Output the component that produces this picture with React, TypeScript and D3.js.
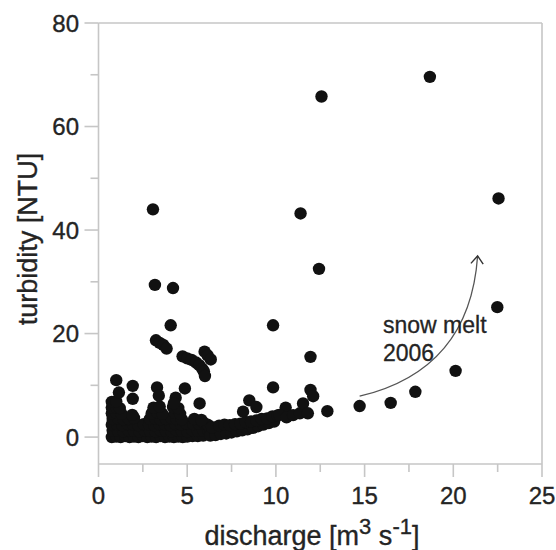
import React from "react";
import * as d3 from "d3";

// Dense low-turbidity cluster [discharge, turbidity]
const clusterPoints: [number, number][] = [
  [0.75, 0], [1.0, 0.1], [1.25, 0], [1.5, 0.2], [1.75, 0], [2.0, 0.1], [2.25, 0], [2.5, 0.2], [2.75, 0], [3.0, 0.1],
  [3.25, 0], [3.5, 0.2], [3.75, 0], [4.0, 0.1], [4.25, 0], [4.5, 0.1], [4.75, 0], [5.0, 0.1], [5.3, 0.2], [5.6, 0.2], [5.9, 0.3],
  [0.8, 1.2], [1.1, 1.2], [1.4, 1.1], [1.7, 1.3], [2.0, 1.2], [2.3, 1.1], [2.6, 1.3], [2.9, 1.2], [3.2, 1.1], [3.5, 1.3],
  [3.8, 1.2], [4.1, 1.1], [4.4, 1.3], [4.7, 1.2], [5.0, 1.1], [5.3, 1.3], [5.6, 1.2], [5.9, 1.3], [6.2, 1.2], [6.5, 1.1],
  [0.75, 2.4], [1.05, 2.4], [1.35, 2.3], [1.65, 2.5], [1.95, 2.4], [2.25, 2.3], [2.55, 2.5], [2.85, 2.4], [3.15, 2.3], [3.45, 2.5],
  [3.75, 2.4], [4.05, 2.3], [4.35, 2.5], [4.65, 2.4], [4.95, 2.6], [5.35, 2.5], [5.65, 2.6], [5.95, 2.7], [6.15, 2.4],
  [0.8, 3.5], [1.1, 3.6], [1.4, 3.4], [1.7, 3.5], [2.0, 3.7], [2.9, 3.5], [3.2, 3.6], [3.5, 3.4], [3.8, 3.5], [4.1, 3.7],
  [4.4, 3.5], [4.7, 3.4], [5.4, 3.5], [5.8, 3.3],
  [0.75, 4.6], [1.0, 4.7], [1.3, 4.5], [1.9, 4.3], [3.0, 4.6], [3.3, 4.8], [3.6, 4.5], [4.3, 4.7], [4.6, 4.5],
  [0.75, 5.7], [1.0, 5.8], [1.2, 5.6], [3.1, 5.7], [3.45, 5.9], [4.2, 5.8], [4.5, 5.6],
  [0.75, 6.8], [1.0, 6.9],
  [6.3, 0.3], [6.6, 0.4], [6.9, 0.6], [7.2, 0.7], [7.5, 0.9], [7.8, 1.1], [8.1, 1.3], [8.4, 1.5], [8.7, 1.8], [9.0, 2.1],
  [9.3, 2.4], [9.6, 2.7], [9.9, 3.0],
  [6.4, 1.9], [6.8, 2.2], [7.1, 2.4], [7.4, 2.3], [7.7, 2.5], [8.0, 2.6], [8.3, 2.9], [8.6, 3.0], [8.9, 3.2], [9.2, 3.5],
  [9.5, 3.6], [9.8, 4.0], [10.1, 4.2],
  [1.0, 11.0], [1.15, 8.6], [1.93, 9.9], [1.93, 7.4], [3.3, 9.6], [3.4, 8.0], [4.35, 7.6], [4.25, 6.5], [4.87, 9.4], [5.7, 6.5],
  [8.5, 7.1], [8.9, 5.8], [8.15, 4.9], [9.84, 9.6],
  [10.55, 5.7], [10.2, 4.3], [10.6, 3.8], [10.97, 4.25], [11.35, 4.6], [11.53, 6.5], [11.8, 4.6], [11.95, 9.1], [12.1, 7.9],
  [12.9, 5.0],
];

// Streak of elevated values at moderate discharge
const streakPoints: [number, number][] = [
  [4.07, 21.6], [3.24, 18.7], [3.45, 18.2], [3.65, 17.8], [3.84, 17.1], [4.74, 15.6], [5.0, 15.2], [5.25, 14.9], [5.5, 14.4],
  [5.68, 13.9], [5.85, 13.2], [5.94, 12.7], [6.0, 11.8], [5.98, 16.5], [6.15, 15.8], [6.33, 15.0], [9.84, 21.6], [11.95, 15.5],
];

// High turbidity events
const highPoints: [number, number][] = [
  [3.07, 44.0], [3.18, 29.4], [4.2, 28.8], [11.39, 43.2], [12.43, 32.5], [12.57, 65.8], [18.68, 69.6], [22.55, 46.1], [22.48, 25.1],
];

// Snow melt 2006 points
const snowMeltPoints: [number, number][] = [
  [14.72, 6.0], [16.47, 6.6], [17.86, 8.75], [20.13, 12.8],
];

const xMajorTicks = [0, 5, 10, 15, 20, 25];
const xMinorTicks = [2.5, 7.5, 12.5, 17.5, 22.5];
const yMajorTicks = [0, 20, 40, 60, 80];
const yMinorTicks = [10, 30, 50, 70];

// annotation arrow in data coords: start, control, end
const arrowStart: [number, number] = [14.72, 7.9];
const arrowControl: [number, number] = [20.92, 12.96];
const arrowEnd: [number, number] = [21.37, 35.0];

const FONT = "'Liberation Sans', Arial, Helvetica, sans-serif";
const AXIS = "#c6c6c6";
const TEXT = "#242424";

export default function App() {
  const W = 556, H = 550;
  const x = d3.scaleLinear().domain([0, 25]).range([98.5, 542]);
  const y = d3.scaleLinear().domain([-5.2, 80]).range([464, 23]);
  const allPoints = [...clusterPoints, ...streakPoints, ...highPoints, ...snowMeltPoints];

  const p0 = [x(arrowStart[0]), y(arrowStart[1])];
  const pc = [x(arrowControl[0]), y(arrowControl[1])];
  const p2 = [x(arrowEnd[0]), y(arrowEnd[1])];
  const path = d3.path();
  path.moveTo(p0[0], p0[1]);
  path.quadraticCurveTo(pc[0], pc[1], p2[0], p2[1]);
  const ang = Math.atan2(p2[1] - pc[1], p2[0] - pc[0]);
  const L = 10, spread = (38 * Math.PI) / 180;
  const head = d3.path();
  head.moveTo(p2[0] - L * Math.cos(ang - spread), p2[1] - L * Math.sin(ang - spread));
  head.lineTo(p2[0], p2[1]);
  head.lineTo(p2[0] - L * Math.cos(ang + spread), p2[1] - L * Math.sin(ang + spread));

  const [x0, x1] = x.range();
  const [yb, yt] = y.range();

  return (
    <svg width={W} height={H} style={{ position: "absolute", left: 0, top: 0, background: "#fff" }} fontFamily={FONT}>
      <rect width={W} height={H} fill="#fff" />
      {/* frame */}
      <g stroke={AXIS} strokeWidth={1.6} fill="none">
        <line x1={x0} x2={x1} y1={yt} y2={yt} />
        <line x1={x1} x2={x1} y1={yt} y2={yb} />
        <line x1={x0} x2={x0} y1={yt} y2={yb} />
        <line x1={x0} x2={x1} y1={yb} y2={yb} />
        {xMajorTicks.map((t) => (
          <line key={"xM" + t} x1={x(t)} x2={x(t)} y1={yb} y2={yb + 13} />
        ))}
        {xMinorTicks.map((t) => (
          <line key={"xm" + t} x1={x(t)} x2={x(t)} y1={yb} y2={yb + 8} />
        ))}
        {yMajorTicks.map((t) => (
          <line key={"yM" + t} x1={x0 - 14} x2={x0} y1={y(t)} y2={y(t)} />
        ))}
        {yMinorTicks.map((t) => (
          <line key={"ym" + t} x1={x0 - 8} x2={x0} y1={y(t)} y2={y(t)} />
        ))}
      </g>
      {/* tick labels */}
      <g fill={TEXT} stroke={TEXT} strokeWidth={0.35} fontSize={24}>
        {xMajorTicks.map((t) => (
          <text key={"xl" + t} x={x(t)} y={504} textAnchor="middle">{t}</text>
        ))}
        {yMajorTicks.map((t) => (
          <text key={"yl" + t} x={79} y={y(t) + 8.5} textAnchor="end">{t}</text>
        ))}
      </g>
      {/* points */}
      <g fill="#111">
        {allPoints.map((d, i) => (
          <circle key={i} cx={x(d[0])} cy={y(d[1])} r={6.2} />
        ))}
      </g>
      {/* annotation */}
      <path d={path.toString()} fill="none" stroke="#555" strokeWidth={1.3} />
      <path d={head.toString()} fill="none" stroke="#333" strokeWidth={1.4} />
      <g fill={TEXT} stroke={TEXT} strokeWidth={0.3} fontSize={23}>
        <text x={383} y={333}>snow melt</text>
        <text x={383} y={361}>2006</text>
      </g>
      {/* axis titles */}
      <text x={312} y={545} textAnchor="middle" fill={TEXT} stroke={TEXT} strokeWidth={0.35} fontSize={27}>
        discharge [m<tspan fontSize={22} dy={-11}>3</tspan>
        <tspan dy={11}> s</tspan>
        <tspan fontSize={22} dy={-11}>-1</tspan>
        <tspan dy={11}>]</tspan>
      </text>
      <text transform="translate(37,239) rotate(-90)" textAnchor="middle" fill={TEXT} stroke={TEXT} strokeWidth={0.35} fontSize={27}>
        turbidity [NTU]
      </text>
    </svg>
  );
}
